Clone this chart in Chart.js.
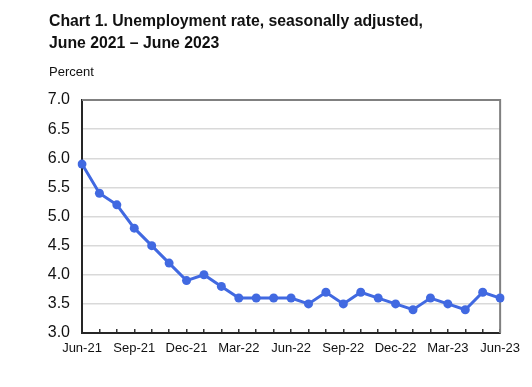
<!DOCTYPE html>
<html>
<head>
<meta charset="utf-8">
<script src="https://cdn.jsdelivr.net/npm/chart.js@4"></script>
<style>
  body { margin: 0; background: #fff; font-family: "Liberation Sans", Arial, sans-serif; }
  #wrap { position: relative; width: 532px; height: 387px; }
  #title { position: absolute; left: 49px; top: 10px; font-size: 15.8px; font-weight: bold; line-height: 22px; color: #111; }
  #unit { position: absolute; left: 49px; top: 64px; font-size: 13px; color: #111; }
  canvas { position: absolute; left: 0; top: 0; }
</style>
</head>
<body>
<div id="wrap">
  <canvas id="unempChart" width="532" height="387"></canvas>
  <div id="title">Chart 1. Unemployment rate, seasonally adjusted,<br>June 2021 – June 2023</div>
  <div id="unit">Percent</div>
</div>
<script>
// --- data ---
const months = ['Jun-21', 'Jul-21', 'Aug-21', 'Sep-21', 'Oct-21', 'Nov-21', 'Dec-21',
  'Jan-22', 'Feb-22', 'Mar-22', 'Apr-22', 'May-22', 'Jun-22', 'Jul-22', 'Aug-22', 'Sep-22',
  'Oct-22', 'Nov-22', 'Dec-22', 'Jan-23', 'Feb-23', 'Mar-23', 'Apr-23', 'May-23', 'Jun-23'];
const unemploymentRate = [5.9, 5.4, 5.2, 4.8, 4.5, 4.2, 3.9,
  4.0, 3.8, 3.6, 3.6, 3.6, 3.6, 3.5, 3.7, 3.5,
  3.7, 3.6, 3.5, 3.4, 3.6, 3.5, 3.4, 3.7, 3.6];
const yTicks = [3.0, 3.5, 4.0, 4.5, 5.0, 5.5, 6.0, 6.5, 7.0];

// top and right frame lines (the axes only give left + bottom)
const framePlugin = {
  id: 'frame',
  beforeDatasetsDraw(chart) {
    const { ctx, chartArea: a } = chart;
    ctx.save();
    ctx.strokeStyle = '#808080';
    ctx.lineWidth = 2;
    ctx.beginPath();
    ctx.moveTo(a.left, a.top);
    ctx.lineTo(a.right, a.top);
    ctx.lineTo(a.right, a.bottom);
    ctx.stroke();
    ctx.restore();
  }
};

const ctx = document.getElementById('unempChart').getContext('2d');
new Chart(ctx, {
  type: 'line',
  data: {
    labels: months,
    datasets: [{
      data: unemploymentRate,
      borderColor: '#4169E1',
      backgroundColor: '#4169E1',
      borderWidth: 3,
      pointRadius: 4.5,
      pointBackgroundColor: '#4169E1',
      pointBorderWidth: 0,
      tension: 0
    }]
  },
  options: {
    responsive: false,
    animation: false,
    layout: { padding: { left: 0, right: 31, top: 100, bottom: 0 } },
    plugins: { legend: { display: false }, tooltip: { enabled: false } },
    scales: {
      x: {
        offset: false,
        afterFit: (s) => { s.height = 54; },
        grid: { display: true, drawOnChartArea: false, drawTicks: true, tickLength: -4, color: '#333', lineWidth: 1.5 },
        border: { display: true, color: '#262626', width: 2 },
        ticks: {
          autoSkip: false,
          maxRotation: 0,
          padding: 12,
          color: '#111',
          font: { family: 'Liberation Sans', size: 13 },
          callback: (v, i) => (i % 3 === 0 ? months[i] : '')
        }
      },
      y: {
        min: 3.0,
        max: 7.0,
        afterFit: (s) => { s.width = 82; },
        afterBuildTicks: (s) => { s.ticks = yTicks.map(v => ({ value: v })); },
        grid: { color: '#d9d9d9', lineWidth: 1.5, drawTicks: false },
        border: { display: true, color: '#262626', width: 2 },
        ticks: {
          padding: 12,
          color: '#111',
          font: { family: 'Liberation Sans', size: 16 },
          callback: (v) => Number(v).toFixed(1)
        }
      }
    }
  },
  plugins: [framePlugin]
});
</script>
</body>
</html>
